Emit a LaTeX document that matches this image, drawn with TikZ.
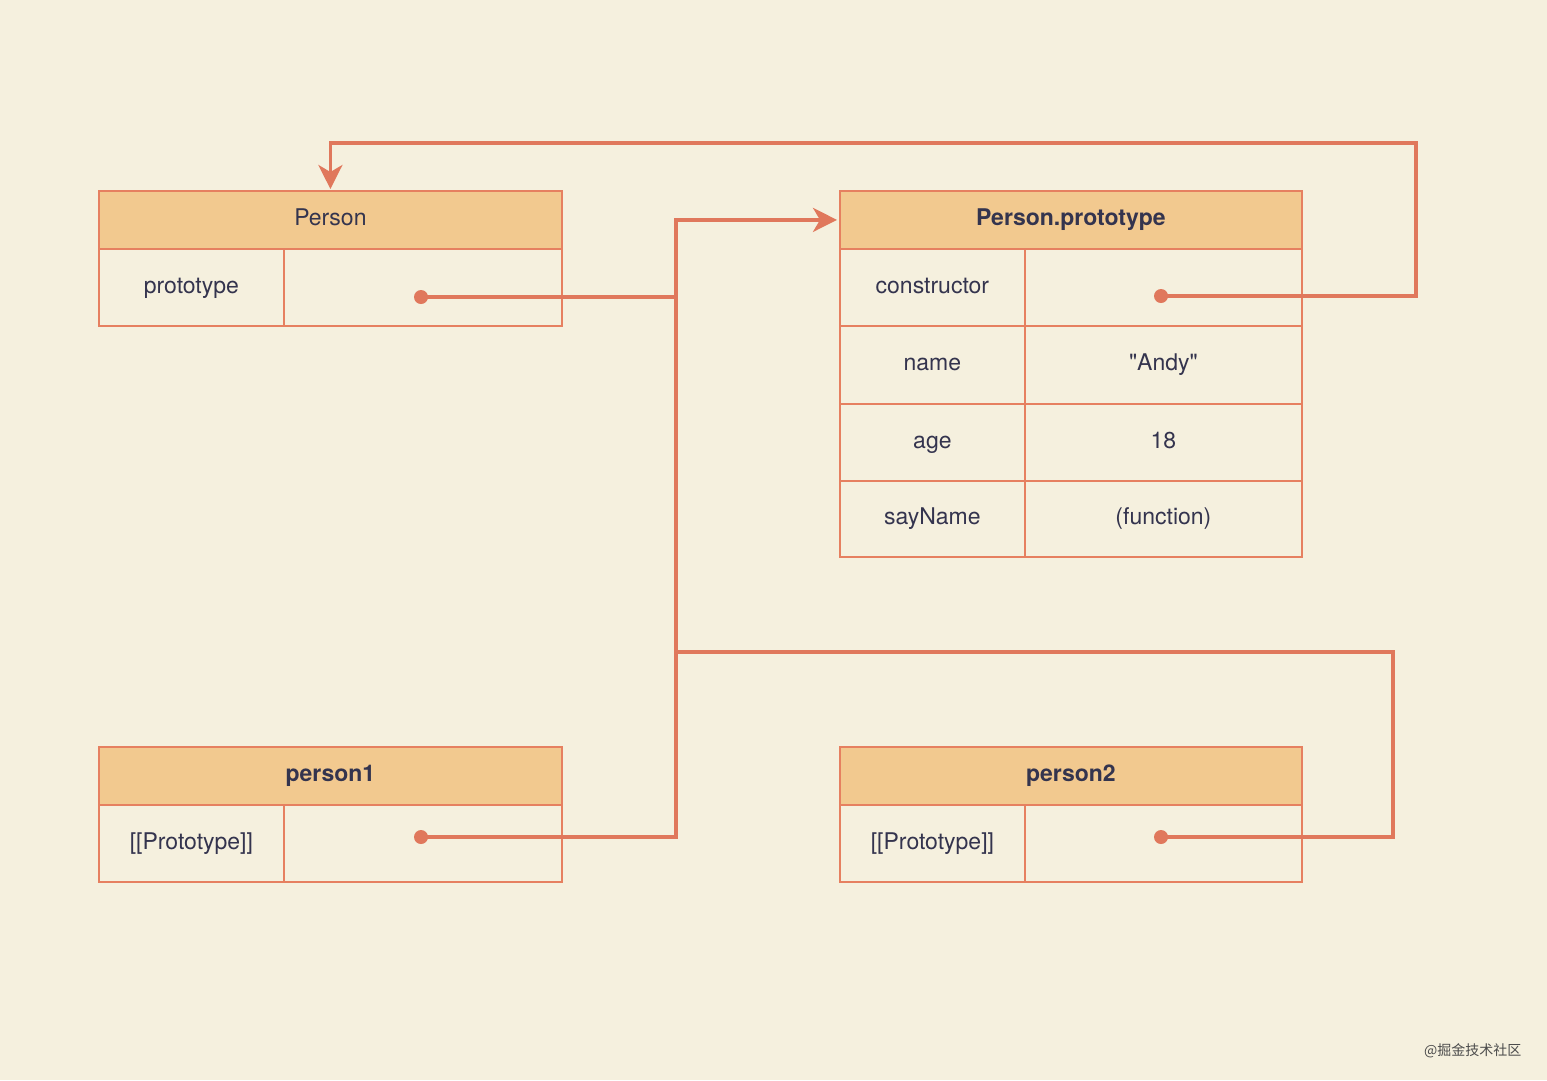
\documentclass[tikz,border=0pt]{standalone}
\usepackage{fontspec}
\setmainfont{TeX Gyre Heros}[Ligatures=TeXOff]
\newfontfamily\cjk{Noto Sans CJK SC}
\usetikzlibrary{arrows.meta}
\definecolor{bgc}{RGB}{245,240,222}
\definecolor{hdr}{RGB}{242,201,143}
\definecolor{ln}{RGB}{224,120,92}
\definecolor{bx}{RGB}{230,128,96}
\definecolor{txt}{RGB}{52,52,78}
\tikzset{
  cell/.style={draw=bx, line width=1.8pt, anchor=north west, inner sep=0pt, text=txt, text height=17pt, text depth=5pt, font=\fontsize{23}{27}\selectfont},
  head/.style={cell, fill=hdr, minimum height=58pt},
  rowc/.style={cell, minimum height=77pt},
  conn/.style={draw=ln, line width=3.5pt},
  arr/.style={-{Stealth[length=24pt,width=24pt,inset=7pt]}},
  dot/.style={circle, fill=ln, inner sep=0pt, minimum size=14pt}
}
\begin{document}
\begin{tikzpicture}[x=1pt,y=-1pt]
\fill[bgc] (0,0) rectangle (1547,1080);
\useasboundingbox (0,0) rectangle (1547,1080);
% Person
\node[head, minimum width=463pt] (ph) at (98,190) {Person};
\node[rowc, minimum width=185pt] (pk) at (98,248) {prototype};
\node[rowc, minimum width=278pt] (pv) at (283,248) {};
% Person.prototype
\node[head, minimum width=462pt, font=\fontsize{23}{27}\selectfont\bfseries] (pp) at (839,190) {Person.prototype};
\node[rowc, minimum width=185pt] (k1) at (839,248) {constructor};
\node[rowc, minimum width=277pt] (v1) at (1024,248) {};
\node[rowc, minimum width=185pt, minimum height=78pt] (k2) at (839,325) {name};
\node[rowc, minimum width=277pt, minimum height=78pt] (v2) at (1024,325) {"Andy"};
\node[rowc, minimum width=185pt] (k3) at (839,403) {age};
\node[rowc, minimum width=277pt] (v3) at (1024,403) {18};
\node[rowc, minimum width=185pt, minimum height=76pt] (k4) at (839,480) {sayName};
\node[rowc, minimum width=277pt, minimum height=76pt] (v4) at (1024,480) {(function)};
% person1
\node[head, minimum width=463pt, font=\fontsize{23}{27}\selectfont\bfseries] (p1h) at (98,746) {person1};
\node[rowc, minimum width=185pt] (p1k) at (98,804) {[[Prototype]]};
\node[rowc, minimum width=278pt] (p1v) at (283,804) {};
% person2
\node[head, minimum width=462pt, font=\fontsize{23}{27}\selectfont\bfseries] (p2h) at (839,746) {person2};
\node[rowc, minimum width=185pt] (p2k) at (839,804) {[[Prototype]]};
\node[rowc, minimum width=277pt] (p2v) at (1024,804) {};
% dots
\node[dot] (d1) at (421,297) {};
\node[dot] (d2) at (1161,296) {};
\node[dot] (d3) at (421,837) {};
\node[dot] (d4) at (1161,837) {};
% bend points
\coordinate (jA) at (676,297);
\coordinate (jB) at (676,652);
\coordinate (r1) at (1416,143);
\coordinate (r2) at (1393,652);
% connectors
\draw[conn, arr, shorten >=2pt] (d1.center) -- (jA) |- (pp.west);
\draw[conn] (d3.center) -| (jA);
\draw[conn] (d4.center) -| (r2) -- (jB);
\draw[conn, arr, shorten >=1pt] (d2.center) -| (r1) -| (ph.north);
% watermark
\node[text=black!70, font=\cjk\fontsize{14}{16}\selectfont, anchor=east] (wm) at (1525,1051) {@掘金技术社区};
\end{tikzpicture}
\end{document}
